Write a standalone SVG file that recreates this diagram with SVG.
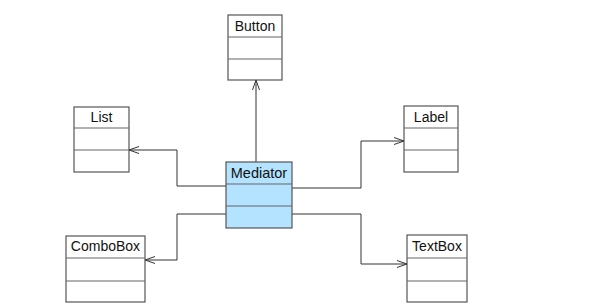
<svg xmlns="http://www.w3.org/2000/svg" width="615" height="307" viewBox="0 0 615 307">
  <style>
    .box { fill: #ffffff; stroke: #555555; stroke-width: 1.2; }
    .hub { fill: #b3e3ff; stroke: #555555; stroke-width: 1.2; }
    .div { stroke: #666666; stroke-width: 1.2; }
    .name { font-family: "Liberation Sans", Arial, sans-serif; font-size: 14px; fill: #111111; text-anchor: middle; }
    .hubname { font-family: "Liberation Sans", Arial, sans-serif; font-size: 14.5px; fill: #111111; text-anchor: middle; }
    .link { fill: none; stroke: #333333; stroke-width: 1; marker-end: url(#open); }
  </style>
  <defs>
    <marker id="open" viewBox="0 0 10 10" refX="10" refY="5" markerWidth="10" markerHeight="10" markerUnits="userSpaceOnUse" orient="auto">
      <path d="M0,1.5 L10,5 L0,8.5" fill="none" stroke="#333333" stroke-width="1"/>
    </marker>
  </defs>
  <rect width="615" height="307" fill="#ffffff"/>

  <g id="connectors">
    <path class="link" d="M256,162 V80"/>
    <path class="link" d="M226,186 H177 V150 H129"/>
    <path class="link" d="M292,188 H361 V141 H404"/>
    <path class="link" d="M226,214 H177 V260 H145"/>
    <path class="link" d="M292,214 H361 V264 H407"/>
  </g>

  <g id="button">
    <rect class="box" x="228" y="15" width="54" height="65"/>
    <line class="div" x1="228" y1="37" x2="282" y2="37"/>
    <line class="div" x1="228" y1="59" x2="282" y2="59"/>
    <text class="name" x="255" y="31">Button</text>
  </g>

  <g id="list">
    <rect class="box" x="74" y="107" width="55" height="65"/>
    <line class="div" x1="74" y1="128" x2="129" y2="128"/>
    <line class="div" x1="74" y1="150" x2="129" y2="150"/>
    <text class="name" x="101.5" y="122">List</text>
  </g>

  <g id="label">
    <rect class="box" x="404" y="106" width="54" height="66"/>
    <line class="div" x1="404" y1="128" x2="458" y2="128"/>
    <line class="div" x1="404" y1="150" x2="458" y2="150"/>
    <text class="name" x="431" y="122">Label</text>
  </g>

  <g id="mediator">
    <rect class="hub" x="226" y="162" width="66" height="66"/>
    <line class="div" x1="226" y1="184" x2="292" y2="184"/>
    <line class="div" x1="226" y1="206" x2="292" y2="206"/>
    <text class="hubname" x="259" y="178">Mediator</text>
  </g>

  <g id="combobox">
    <rect class="box" x="66" y="236" width="79" height="66"/>
    <line class="div" x1="66" y1="258" x2="145" y2="258"/>
    <line class="div" x1="66" y1="281" x2="145" y2="281"/>
    <text class="name" x="105.5" y="251">ComboBox</text>
  </g>

  <g id="textbox">
    <rect class="box" x="407" y="235" width="60" height="67"/>
    <line class="div" x1="407" y1="258" x2="467" y2="258"/>
    <line class="div" x1="407" y1="281" x2="467" y2="281"/>
    <text class="name" x="437" y="251">TextBox</text>
  </g>
</svg>
